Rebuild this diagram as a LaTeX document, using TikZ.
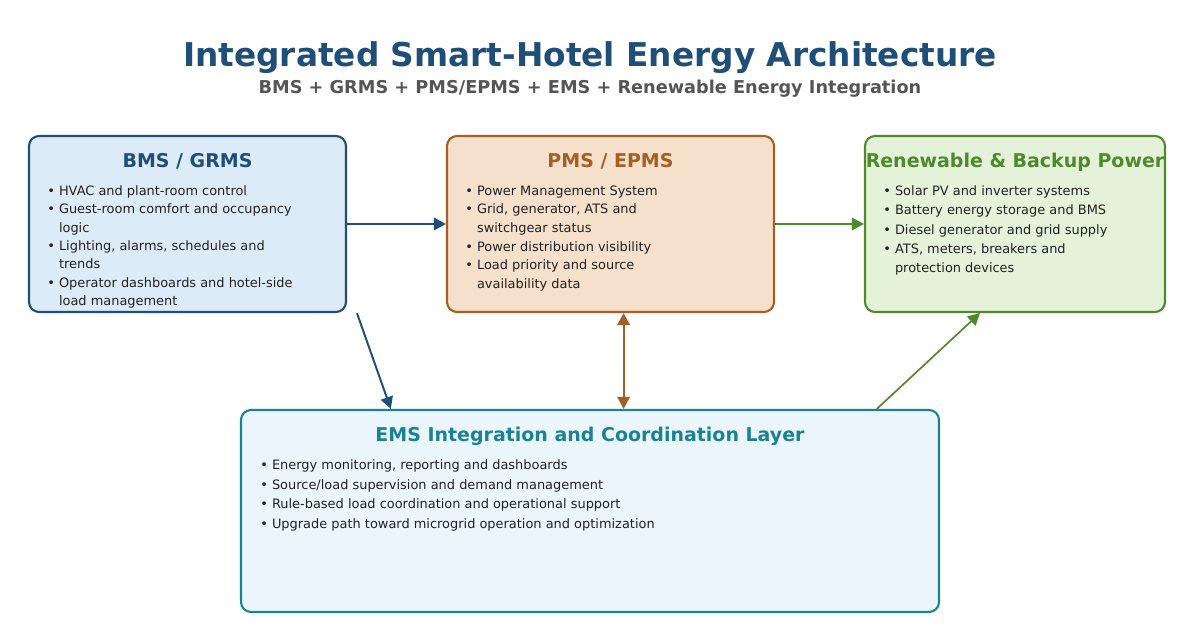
\documentclass[tikz,border=0pt]{standalone}
\usepackage{fontspec}
\setmainfont{DejaVu Sans}
\usetikzlibrary{arrows.meta,calc,positioning}

\definecolor{bmsblue}{HTML}{1F4E79}
\definecolor{bmsfill}{HTML}{DCEBF7}
\definecolor{pmsbrown}{HTML}{A65E24}
\definecolor{pmsfill}{HTML}{F5E0CB}
\definecolor{rengreen}{HTML}{4E8A2B}
\definecolor{renfill}{HTML}{E5F2DA}
\definecolor{emsteal}{HTML}{1B8296}
\definecolor{emsfill}{HTML}{EAF6FB}
\definecolor{subgray}{HTML}{555555}
\definecolor{bodytext}{HTML}{222222}

\newcommand{\contline}{\phantom{•\ }}

\tikzset{
	panel/.style = {rectangle, rounded corners=0.25cm, line width=1.5pt, minimum height=4.4cm, inner sep=0pt},
	paneltitle/.style = {anchor=base, font=\fontsize{13.5}{16}\selectfont\bfseries},
	bullets/.style = {anchor=north west, align=left, inner sep=0pt, text=bodytext},
	link/.style = {line width=1.4pt, -{Triangle[length=3mm,width=3.1mm]}},
}

\begin{document}
\begin{tikzpicture}
		
		\useasboundingbox (0,0) rectangle (30,15.9);
		
		% heading
		\node[anchor=base, font=\fontsize{23.3}{28}\selectfont\bfseries, text=bmsblue] (title) at (14.75,14.23) {Integrated Smart-Hotel Energy Architecture};
		\node[anchor=base, font=\fontsize{12.6}{15}\selectfont\bfseries, text=subgray] (subtitle) at (14.75,13.56) {BMS + GRMS + PMS/EPMS + EMS + Renewable Energy Integration};
		
		% boxes
		\node[panel, draw=bmsblue, fill=bmsfill, minimum width=7.925cm] (bms) at (4.6875,10.3) {};
		\node[panel, draw=pmsbrown, fill=pmsfill, minimum width=8.175cm] (pms) at (15.2625,10.3) {};
		\node[panel, draw=rengreen, fill=renfill, minimum width=7.5cm] (ren) at (25.375,10.3) {};
		\node[panel, draw=emsteal, fill=emsfill, minimum width=17.45cm, minimum height=5.05cm] (ems) at (14.75,3.125) {};
		
		% titles
		\node[paneltitle, text=bmsblue] (bmstitle) at (4.6875,11.7) {BMS / GRMS};
		\node[paneltitle, text=pmsbrown] (pmstitle) at (15.2625,11.7) {PMS / EPMS};
		\node[paneltitle, text=rengreen] (rentitle) at (25.375,11.7) {Renewable \& Backup Power};
		\node[paneltitle, text=emsteal] (emstitle) at (14.75,4.86) {EMS Integration and Coordination Layer};
		
		% bullet lists
		\node[bullets, font=\fontsize{9.2}{13.1}\selectfont] (bmslist) at (1.175,11.27) {%
			• HVAC and plant-room control\\
			• Guest-room comfort and occupancy\\
			\contline logic\\
			• Lighting, alarms, schedules and\\
			\contline trends\\
			• Operator dashboards and hotel-side\\
			\contline load management};
		\node[bullets, font=\fontsize{9.2}{13.3}\selectfont] (pmslist) at (11.625,11.27) {%
			• Power Management System\\
			• Grid, generator, ATS and\\
			\contline switchgear status\\
			• Power distribution visibility\\
			• Load priority and source\\
			\contline availability data};
		\node[bullets, font=\fontsize{9.2}{13.8}\selectfont] (renlist) at (22.075,11.27) {%
			• Solar PV and inverter systems\\
			• Battery energy storage and BMS\\
			• Diesel generator and grid supply\\
			• ATS, meters, breakers and\\
			\contline protection devices};
		\node[bullets, font=\fontsize{9.2}{14.1}\selectfont] (emslist) at (6.5,4.42) {%
			• Energy monitoring, reporting and dashboards\\
			• Source/load supervision and demand management\\
			• Rule-based load coordination and operational support\\
			• Upgrade path toward microgrid operation and optimization};
		
		% links
		\coordinate (bmstail) at (8.925,8.07);
		\coordinate (pmslink) at (15.59,7);
		\draw[link, draw=bmsblue, fill=bmsblue] (bms.east) -- (pms.west);
		\draw[link, draw=rengreen, fill=rengreen] (pms.east) -- (ren.west);
		\draw[link, draw=bmsblue, fill=bmsblue] (bmstail) -- ($(ems.north)+(-4.98,0)$);
		\draw[link, {Triangle[length=3mm,width=3.1mm]}-{Triangle[length=3mm,width=3.1mm]}, draw=pmsbrown, fill=pmsbrown] (pms.south -| pmslink) -- (ems.north -| pmslink);
		\draw[link, line width=1.2pt, draw=rengreen, fill=rengreen] ($(ems.north)+(7.17,0)$) -- ($(ren.south)+(-0.875,0)$);
		
\end{tikzpicture}
\end{document}
